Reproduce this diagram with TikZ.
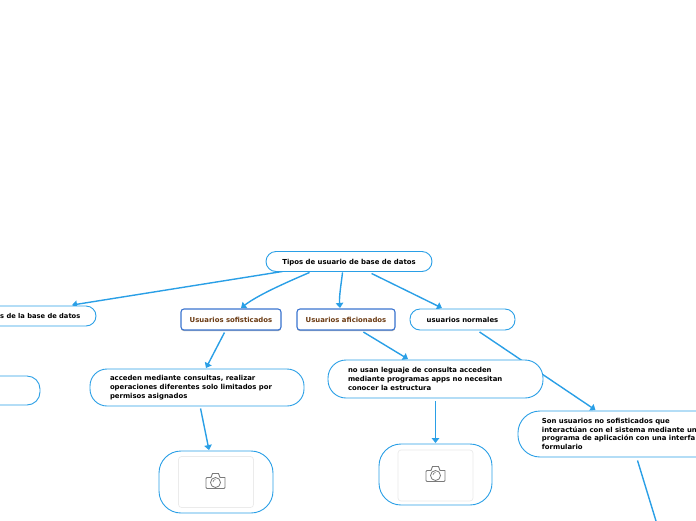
\documentclass[tikz,border=0pt]{standalone}
\usepackage{fontspec}
\setmainfont{DejaVu Sans}
\usetikzlibrary{arrows.meta,shadows,backgrounds}
\definecolor{mapblue}{HTML}{2A9FE6}
\definecolor{deepblue}{HTML}{3A74D0}
\definecolor{brownink}{HTML}{6B3A12}
\definecolor{iconink}{HTML}{7A7A7A}
\definecolor{framegray}{HTML}{EBEBEB}
\newcommand{\mapfont}{\bfseries\fontsize{6.9}{8.7}\selectfont}
\newcommand{\blocktext}[2]{\raisebox{-1pt}{\parbox[c]{#1}{\raggedright #2}}}
\tikzset{
  x=1pt,y=-1pt,
  topic/.style={draw=mapblue,line width=0.9pt,fill=white,font=\mapfont,text=black,rounded corners=#1,inner sep=0pt},
  topic/.default=10pt,
  oneline/.style={text depth=0pt},
  strong/.style={draw=deepblue,line width=1.1pt,fill=white,rounded corners=3pt,inner sep=0pt,
    font=\mapfont,text=brownink,text depth=0pt,
    drop shadow={shadow xshift=0pt,shadow yshift=-1.2pt,opacity=0.3,fill=black}},
  link/.style={draw=mapblue,line width=1.4pt,-{Triangle[length=5pt,width=7.5pt]}},
  plainlink/.style={draw=mapblue,line width=1.4pt},
  photoframe/.style={draw=framegray,line width=0.7pt,fill=white,rounded corners=3pt,minimum width=75pt,minimum height=51pt,inner sep=0pt},
  pics/cameraicon/.style={code={
    \draw[iconink,line width=0.9pt,line join=round,fill=white]
      (-9.5,-3.5) -- (-4.5,-3.5) -- (-3,-7.5) -- (3,-7.5) -- (4.5,-3.5) -- (9.5,-3.5)
      [rounded corners=1pt] -- (9.5,7.5) -- (-9.5,7.5) -- cycle;
    \draw[iconink,line width=0.8pt] (0,1.5) circle (5);
    \draw[iconink,line width=0.6pt] (-2.5,1) arc (180:270:2.5);
  }}
}
\begin{document}
\begin{tikzpicture}
\useasboundingbox (0,0) rectangle (696,520);
\clip (0,0) rectangle (696,520);
% nodes
\node[topic,oneline,minimum width=166pt,minimum height=20pt] (root) at (349,261.5) {Tipos de usuario de base de datos};
\node[topic,minimum width=196pt,minimum height=20pt] (admin) at (-2,316) {};
\node[anchor=east,font=\bfseries\fontsize{6.7}{8.7}\selectfont,text depth=0pt,inner sep=0pt] (admintext) at (80.5,316) {s de la base de datos};
\node[topic=13pt,minimum width=140pt,minimum height=29pt] (left) at (-30,390.5) {};
\node[strong,minimum width=100pt,minimum height=21pt] (sof) at (231,319.5) {Usuarios sofisticados};
\node[strong,minimum width=98pt,minimum height=21pt] (afi) at (346,319.5) {Usuarios aficionados};
\node[topic,oneline,minimum width=105pt,minimum height=21pt] (nor) at (462.5,319.5) {usuarios normales};
\node[topic=17pt,minimum width=214pt,minimum height=37pt] (acc) at (197,387.5)
  {\blocktext{174pt}{acceden mediante consultas, realizar\\operaciones diferentes solo limitados por\\permisos asignados}};
\node[topic=18pt,minimum width=215pt,minimum height=38pt] (nous) at (435.5,379)
  {\blocktext{175pt}{no usan leguaje de consulta acceden\\mediante programas apps no necesitan\\conocer la estructura}};
\node[topic=22pt,minimum width=223pt,minimum height=46pt,anchor=west] (son) at (517.5,434)
  {\blocktext{175pt}{Son usuarios no sofisticados que\\interactúan con el sistema mediante un\\programa de aplicación con una interfa\\formulario}};
\node[topic=22pt,minimum width=114pt,minimum height=62pt] (ph1) at (216,482) {};
\node[photoframe] (fr1) at (216,482) {};
\pic at (215.5,481) {cameraicon};
\node[topic=22pt,minimum width=113pt,minimum height=61pt] (ph2) at (435.5,474.5) {};
\node[photoframe] (fr2) at (435.5,475.5) {};
\pic at (435.5,474) {cameraicon};
\coordinate (tail) at (656,521);
% connectors
\begin{scope}[on background layer]
\draw[link] ([xshift=17pt,yshift=0.5pt]root.south west) -- ([xshift=74pt,yshift=0.5pt]admin.north);
\draw[link] ([xshift=44pt,yshift=-0.5pt]root.south west) .. controls (285,283) and (258,295) .. ([xshift=10pt,yshift=0.5pt]sof.north);
\draw[link] ([xshift=77pt,yshift=-0.5pt]root.south west) .. controls (341,285) and (339,297) .. ([xshift=-6pt,yshift=0.5pt]afi.north);
\draw[link] ([xshift=106pt,yshift=-1.5pt]root.south west) -- ([xshift=-20.5pt,yshift=0.5pt]nor.north);
\draw[link] ([xshift=44pt,yshift=-2pt]sof.south west) -- ([xshift=9pt,yshift=0.5pt]acc.north);
\draw[link] ([xshift=67pt,yshift=-1.5pt]afi.south west) -- ([xshift=-27.5pt,yshift=0.5pt]nous.north);
\draw[link] ([xshift=70pt,yshift=-1.5pt]nor.south west) -- ([xshift=78pt,yshift=0.5pt]son.north west);
\draw[link] ([xshift=111pt,yshift=-2pt]acc.south west) -- ([xshift=-7pt,yshift=0.5pt]ph1.north);
\draw[link] ([yshift=-3pt]nous.south) -- ([yshift=0.5pt]ph2.north);
\draw[plainlink] ([xshift=120pt,yshift=-3pt]son.south west) -- (tail);
\end{scope}
\end{tikzpicture}
\end{document}
